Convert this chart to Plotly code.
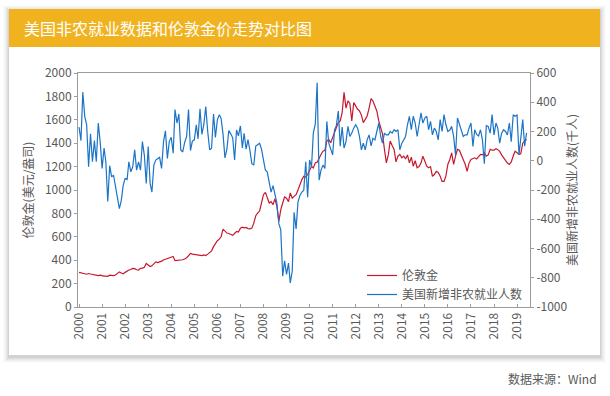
import plotly.graph_objects as go
import pandas as pd

# ---------------- data (monthly, Jan 2000 - Jun 2019) ----------------
gold_2000 = [296, 290, 286, 284, 280, 286, 282, 278, 276, 272, 268, 272]
gold_2001 = [266, 264, 264, 262, 272, 270, 268, 274, 292, 300, 290, 284]
gold_2002 = [296, 310, 316, 320, 330, 328, 318, 316, 330, 332, 340, 372]
gold_2003 = [362, 346, 352, 366, 386, 380, 384, 392, 402, 408, 414, 421]
gold_2004 = [424, 432, 396, 398, 394, 400, 404, 410, 420, 438, 458, 452]
gold_2005 = [450, 446, 450, 444, 440, 446, 440, 452, 466, 480, 516, 545]
gold_2006 = [567, 580, 600, 665, 650, 632, 628, 622, 612, 628, 646, 640]
gold_2007 = [674, 682, 676, 680, 670, 668, 674, 717, 780, 803, 820, 889]
gold_2008 = [960, 980, 940, 889, 900, 875, 925, 860, 731, 830, 889, 940]
gold_2009 = [930, 900, 975, 930, 945, 960, 1000, 1046, 1089, 1117, 1110, 1132]
gold_2010 = [1175, 1203, 1189, 1232, 1238, 1275, 1304, 1332, 1340, 1418, 1432, 1404]
gold_2011 = [1450, 1504, 1533, 1576, 1590, 1662, 1834, 1700, 1762, 1740, 1590, 1748]
gold_2012 = [1719, 1690, 1676, 1640, 1576, 1610, 1633, 1700, 1782, 1760, 1720, 1676]
gold_2013 = [1590, 1540, 1480, 1347, 1232, 1300, 1418, 1380, 1347, 1240, 1290, 1304]
gold_2014 = [1275, 1290, 1265, 1300, 1232, 1280, 1203, 1250, 1190, 1200, 1230, 1289]
gold_2015 = [1246, 1203, 1190, 1200, 1117, 1132, 1160, 1150, 1117, 1074, 1074, 1120]
gold_2016 = [1220, 1261, 1318, 1218, 1290, 1347, 1340, 1300, 1261, 1220, 1160, 1230]
gold_2017 = [1261, 1270, 1275, 1265, 1290, 1304, 1300, 1318, 1290, 1300, 1347, 1340]
gold_2018 = [1340, 1353, 1345, 1330, 1300, 1275, 1250, 1230, 1218, 1240, 1290, 1332]
gold_2019 = [1318, 1304, 1310, 1400, 1418, 1432]

nfp_2000 = [230, 138, 469, 304, 246, -41, 184, -7, 138, -7, 258, 131]
nfp_2001 = [-52, 86, -7, -278, -34, -110, -99, -168, -250, -328, -271, -168]
nfp_2002 = [-121, -128, -7, -76, -41, 74, -64, -7, -64, 131, 39, -156]
nfp_2003 = [97, -156, -214, -30, 5, 16, 23, -52, 131, 205, 16, 131]
nfp_2004 = [160, 51, 350, 258, 320, 74, 60, 125, 166, 350, 70, 135]
nfp_2005 = [143, 246, 150, 355, 180, 250, 370, 200, 74, 86, 320, 160]
nfp_2006 = [280, 315, 290, 180, 20, 80, 207, 184, 157, 5, 210, 170]
nfp_2007 = [238, 88, 188, 79, 144, 70, -20, -30, 100, 110, 120, 80]
nfp_2008 = [16, -64, -76, -160, -214, -170, -237, -290, -432, -470, -789, -685]
nfp_2009 = [-777, -700, -835, -754, -352, -466, -283, -237, -214, -202, -7, -250]
nfp_2010 = [5, -41, 189, 250, 534, -133, -64, -30, -52, 269, 120, 74]
nfp_2011 = [40, 212, 240, 340, 100, 230, 86, 131, 235, 166, 189, 223]
nfp_2012 = [246, 223, 166, 74, 120, 74, 143, 177, 101, 154, 143, 200]
nfp_2013 = [258, 166, 120, 189, 177, 177, 200, 189, 212, 200, 212, 74]
nfp_2014 = [120, 143, 166, 246, 304, 212, 304, 258, 166, 246, 327, 258]
nfp_2015 = [292, 304, 212, 269, 177, 223, 200, 143, 281, 200, 315, 246]
nfp_2016 = [200, 210, 235, 166, 39, 292, 250, 200, 166, 177, 177, 223]
nfp_2017 = [258, 97, 212, 180, 170, 212, 143, -20, 240, 235, 189, 315]
nfp_2018 = [177, 258, 223, 120, 189, 212, 200, 177, 258, 131, 315, 304]
nfp_2019 = [312, 39, 166, 281, 100, 190]

right_tickvals = [-1000, -800, -600, -400, -200, 0, 200, 400, 600]
right_ticktext = ["-1000", "-800", "-600", "-400", "-200", "0", "200", "400", "600"]

gold_name = "伦敦金"
nfp_name = "美国新增非农就业人数"
chart_title = "美国非农就业数据和伦敦金价走势对比图"
left_title = "伦敦金(美元/盎司)"
right_title = "美国新增非农就业人数(千人)"
source_text = "数据来源：Wind"

gold = (gold_2000 + gold_2001 + gold_2002 + gold_2003 + gold_2004 + gold_2005 + gold_2006
        + gold_2007 + gold_2008 + gold_2009 + gold_2010 + gold_2011 + gold_2012 + gold_2013
        + gold_2014 + gold_2015 + gold_2016 + gold_2017 + gold_2018 + gold_2019)
nfp = (nfp_2000 + nfp_2001 + nfp_2002 + nfp_2003 + nfp_2004 + nfp_2005 + nfp_2006
       + nfp_2007 + nfp_2008 + nfp_2009 + nfp_2010 + nfp_2011 + nfp_2012 + nfp_2013
       + nfp_2014 + nfp_2015 + nfp_2016 + nfp_2017 + nfp_2018 + nfp_2019)
assert len(gold) == len(nfp)
dates = pd.date_range("2000-01-01", periods=len(gold), freq="MS")

# ---------------- geometry helpers (pixels -> paper) ----------------
W, H = 610, 396
ML, MR, MT, MB = 78, 80, 73, 89
PW, PH = W - ML - MR, H - MT - MB


def fx(px):
    return (px - ML) / PW


def fy(py):
    return (H - MB - py) / PH


FONT = "Noto Sans CJK SC, Noto Sans, sans-serif"
GRAY = "#595959"
AXIS = "#9c9c9c"
RED = "#C8182F"
BLUE = "#1C74C6"

fig = go.Figure()
fig.add_trace(go.Scatter(x=dates, y=gold, name=gold_name, mode="lines",
                         line=dict(color=RED, width=1.2), yaxis="y"))
fig.add_trace(go.Scatter(x=dates, y=nfp, name=nfp_name, mode="lines",
                         line=dict(color=BLUE, width=1.2), yaxis="y2"))

shapes = []
# soft card shadow
for i, a in [(6, 0.015), (5, 0.02), (4, 0.025), (3, 0.03), (2, 0.04), (1, 0.05)]:
    shapes.append(dict(type="rect", xref="paper", yref="paper", layer="below",
                       x0=fx(9 - i), x1=fx(600 + i), y0=fy(9 - i + 2), y1=fy(355 + i + 2),
                       line=dict(width=0), fillcolor=f"rgba(0,0,0,{a})"))
# card
shapes.append(dict(type="rect", xref="paper", yref="paper", layer="below",
                   x0=fx(9), x1=fx(600), y0=fy(9), y1=fy(355),
                   line=dict(width=0), fillcolor="white"))
# header bar
shapes.append(dict(type="rect", xref="paper", yref="paper", layer="below",
                   x0=fx(9), x1=fx(600), y0=fy(9), y1=fy(47),
                   line=dict(width=0), fillcolor="#F0B31F"))

annotations = [
    dict(text=chart_title, xref="paper", yref="paper", x=fx(22), y=fy(28),
         xanchor="left", yanchor="middle", showarrow=False,
         font=dict(family=FONT, size=16, color="white")),
    dict(text=source_text, xref="paper", yref="paper", x=fx(599), y=fy(378),
         xanchor="right", yanchor="middle", showarrow=False,
         font=dict(family=FONT, size=12, color=GRAY)),
]

fig.update_layout(
    width=W, height=H,
    margin=dict(l=ML, r=MR, t=MT, b=MB, autoexpand=False),
    paper_bgcolor="white", plot_bgcolor="rgba(0,0,0,0)",
    font=dict(family=FONT, size=12, color=GRAY),
    shapes=shapes, annotations=annotations,
    showlegend=True,
    legend=dict(x=fx(362), y=fy(261), xanchor="left", yanchor="top",
                bgcolor="rgba(0,0,0,0)", font=dict(family=FONT, size=12, color=GRAY),
                tracegroupgap=0),
    xaxis=dict(type="date", range=["1999-12-16", "2019-07-25"],
               tick0="2000-01-01", dtick="M12", tickformat="%Y", tickangle=-90,
               ticks="inside", ticklen=3, tickcolor=AXIS,
               showline=True, linecolor=AXIS, linewidth=1, mirror=True,
               showgrid=False, zeroline=False, automargin=False,
               tickfont=dict(family=FONT, size=12, color=GRAY)),
    yaxis=dict(range=[0, 2000], dtick=200, ticks="outside", ticklen=3, tickcolor=AXIS,
               showline=True, linecolor=AXIS, linewidth=1, showgrid=False, zeroline=False,
               automargin=False, tickfont=dict(family=FONT, size=12, color=GRAY),
               title=dict(text=left_title, standoff=8,
                          font=dict(family=FONT, size=12, color=GRAY))),
    yaxis2=dict(range=[-1000, 600], overlaying="y", side="right",
                tickvals=right_tickvals, ticktext=right_ticktext,
                ticks="outside", ticklen=3, tickcolor=AXIS,
                showline=True, linecolor=AXIS, linewidth=1, showgrid=False, zeroline=False,
                automargin=False, tickfont=dict(family=FONT, size=12, color=GRAY),
                title=dict(text=right_title, standoff=2,
                           font=dict(family=FONT, size=12, color=GRAY))),
)

fig.write_html("out.html",
               config={"displayModeBar": False},
               post_script="document.body.style.margin='0';document.body.style.padding='0';"
                           "document.body.style.overflow='hidden';")
